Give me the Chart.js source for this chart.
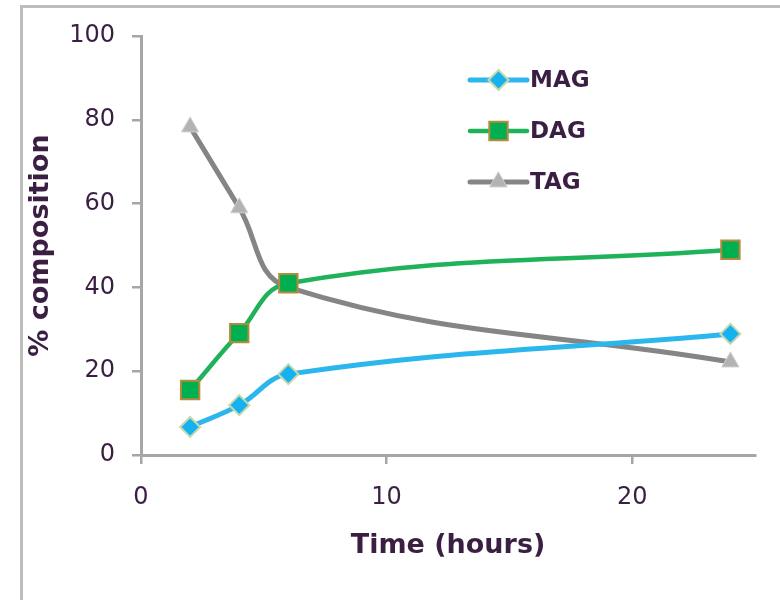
<!DOCTYPE html>
<html>
<head>
<meta charset="utf-8">
<script src="https://cdn.jsdelivr.net/npm/chart.js@4/dist/chart.umd.min.js"></script>
<style>
  html, body { margin: 0; padding: 0; background: #ffffff; overflow: hidden; }
  #wrap { width: 780px; height: 600px; }
</style>
</head>
<body>
<div id="wrap"><canvas id="c" width="780" height="600"></canvas></div>
<script>
// Reaction time (hours) and glyceride composition (%)
const times = [2, 4, 6, 24];
const magValues = [6.7, 11.9, 19.3, 28.9];
const dagValues = [15.5, 29.1, 41.0, 49.0];
const tagValues = [78.3, 59.0, 40.0, 22.2];
const seriesNames = ['MAG', 'DAG', 'TAG'];
const xTickValues = [0, 10, 20];
const yTickValues = [0, 20, 40, 60, 80, 100];

const textColor = '#3a1f43';
const axisColor = '#a6a6a6';

const toPoints = vals => vals.map((v, i) => ({ x: times[i], y: v }));

// Outer frame around the whole chart
const framePlugin = {
  id: 'frame',
  beforeDraw(chart) {
    const ctx = chart.ctx;
    ctx.save();
    ctx.fillStyle = '#ffffff';
    ctx.fillRect(0, 0, chart.width, chart.height);
    ctx.strokeStyle = '#bdbdbd';
    ctx.lineWidth = 3;
    ctx.strokeRect(21.5, 6.5, 900, 800);
    ctx.restore();
  }
};

// Legend with a line segment and marker for each series
const lineLegendPlugin = {
  id: 'lineLegend',
  afterDraw(chart, args, opts) {
    const ctx = chart.ctx;
    ctx.save();
    chart.data.datasets.forEach((ds, i) => {
      const y = opts.rows[i];
      ctx.strokeStyle = ds.borderColor;
      ctx.lineWidth = ds.borderWidth;
      ctx.lineCap = 'round';
      ctx.beginPath();
      ctx.moveTo(opts.x0, y);
      ctx.lineTo(opts.x1, y);
      ctx.stroke();
      ctx.fillStyle = ds.pointBackgroundColor;
      ctx.strokeStyle = ds.pointBorderColor;
      ctx.lineWidth = ds.pointBorderWidth;
      Chart.helpers.drawPoint(ctx, {
        pointStyle: ds.pointStyle,
        radius: ds.pointRadius,
        rotation: 0,
        borderWidth: ds.pointBorderWidth
      }, (opts.x0 + opts.x1) / 2, y);
      ctx.fillStyle = textColor;
      ctx.font = 'bold 23px "DejaVu Sans", Verdana, sans-serif';
      ctx.textAlign = 'left';
      ctx.textBaseline = 'middle';
      ctx.fillText(ds.label, opts.x1 + 3, y + 1);
    });
    ctx.restore();
  }
};

new Chart(document.getElementById('c'), {
  type: 'line',
  data: {
    datasets: [
      {
        label: seriesNames[0],
        data: toPoints(magValues),
        borderColor: '#2cb6ee',
        borderWidth: 5,
        pointStyle: 'rectRot',
        pointRadius: 10,
        pointBackgroundColor: '#14b2f0',
        pointBorderColor: '#c6d9ad',
        pointBorderWidth: 2,
        tension: 0.4
      },
      {
        label: seriesNames[1],
        data: toPoints(dagValues),
        borderColor: '#1fb25a',
        borderWidth: 4.5,
        pointStyle: 'rect',
        pointRadius: 13,
        pointBackgroundColor: '#00b050',
        pointBorderColor: '#b48a3c',
        pointBorderWidth: 2,
        tension: 0.4
      },
      {
        label: seriesNames[2],
        data: toPoints(tagValues),
        borderColor: '#858585',
        borderWidth: 5,
        pointStyle: 'triangle',
        pointRadius: 10,
        pointBackgroundColor: '#b3b3b3',
        pointBorderColor: '#d2d2d2',
        pointBorderWidth: 1,
        tension: 0.4
      }
    ]
  },
  options: {
    responsive: false,
    animation: false,
    layout: { autoPadding: false, padding: { left: 0, top: 36, right: 25, bottom: 0 } },
    plugins: {
      legend: { display: false },
      tooltip: { enabled: false },
      lineLegend: { x0: 470, x1: 527, rows: [80, 131, 182] }
    },
    scales: {
      x: {
        type: 'linear',
        min: 0,
        max: 25,
        afterFit(scale) { scale.height = 145; },
        afterBuildTicks(scale) { scale.ticks = xTickValues.map(v => ({ value: v })); },
        border: { display: true, color: axisColor, width: 3 },
        grid: { display: true, drawOnChartArea: false, drawTicks: true, tickLength: 9, color: axisColor, lineWidth: 2.5 },
        ticks: {
          color: textColor,
          padding: 19,
          maxRotation: 0,
          font: { family: '"DejaVu Sans", Verdana, sans-serif', size: 24 }
        },
        title: {
          display: true,
          text: 'Time (hours)',
          color: textColor,
          font: { family: '"DejaVu Sans", Verdana, sans-serif', size: 27, weight: 'bold' },
          padding: { top: 0, bottom: 38 }
        }
      },
      y: {
        min: 0,
        max: 100,
        afterFit(scale) { scale.width = 141; },
        afterBuildTicks(scale) { scale.ticks = yTickValues.map(v => ({ value: v })); },
        border: { display: true, color: axisColor, width: 3 },
        grid: { display: true, drawOnChartArea: false, drawTicks: true, tickLength: 9, color: axisColor, lineWidth: 2.5 },
        ticks: {
          color: textColor,
          padding: 17,
          font: { family: '"DejaVu Sans", Verdana, sans-serif', size: 24 }
        },
        title: {
          display: true,
          text: '% composition',
          color: textColor,
          font: { family: '"DejaVu Sans", Verdana, sans-serif', size: 27, weight: 'bold' },
          padding: { top: 25, bottom: 0 }
        }
      }
    }
  },
  plugins: [framePlugin, lineLegendPlugin]
});
</script>
</body>
</html>
